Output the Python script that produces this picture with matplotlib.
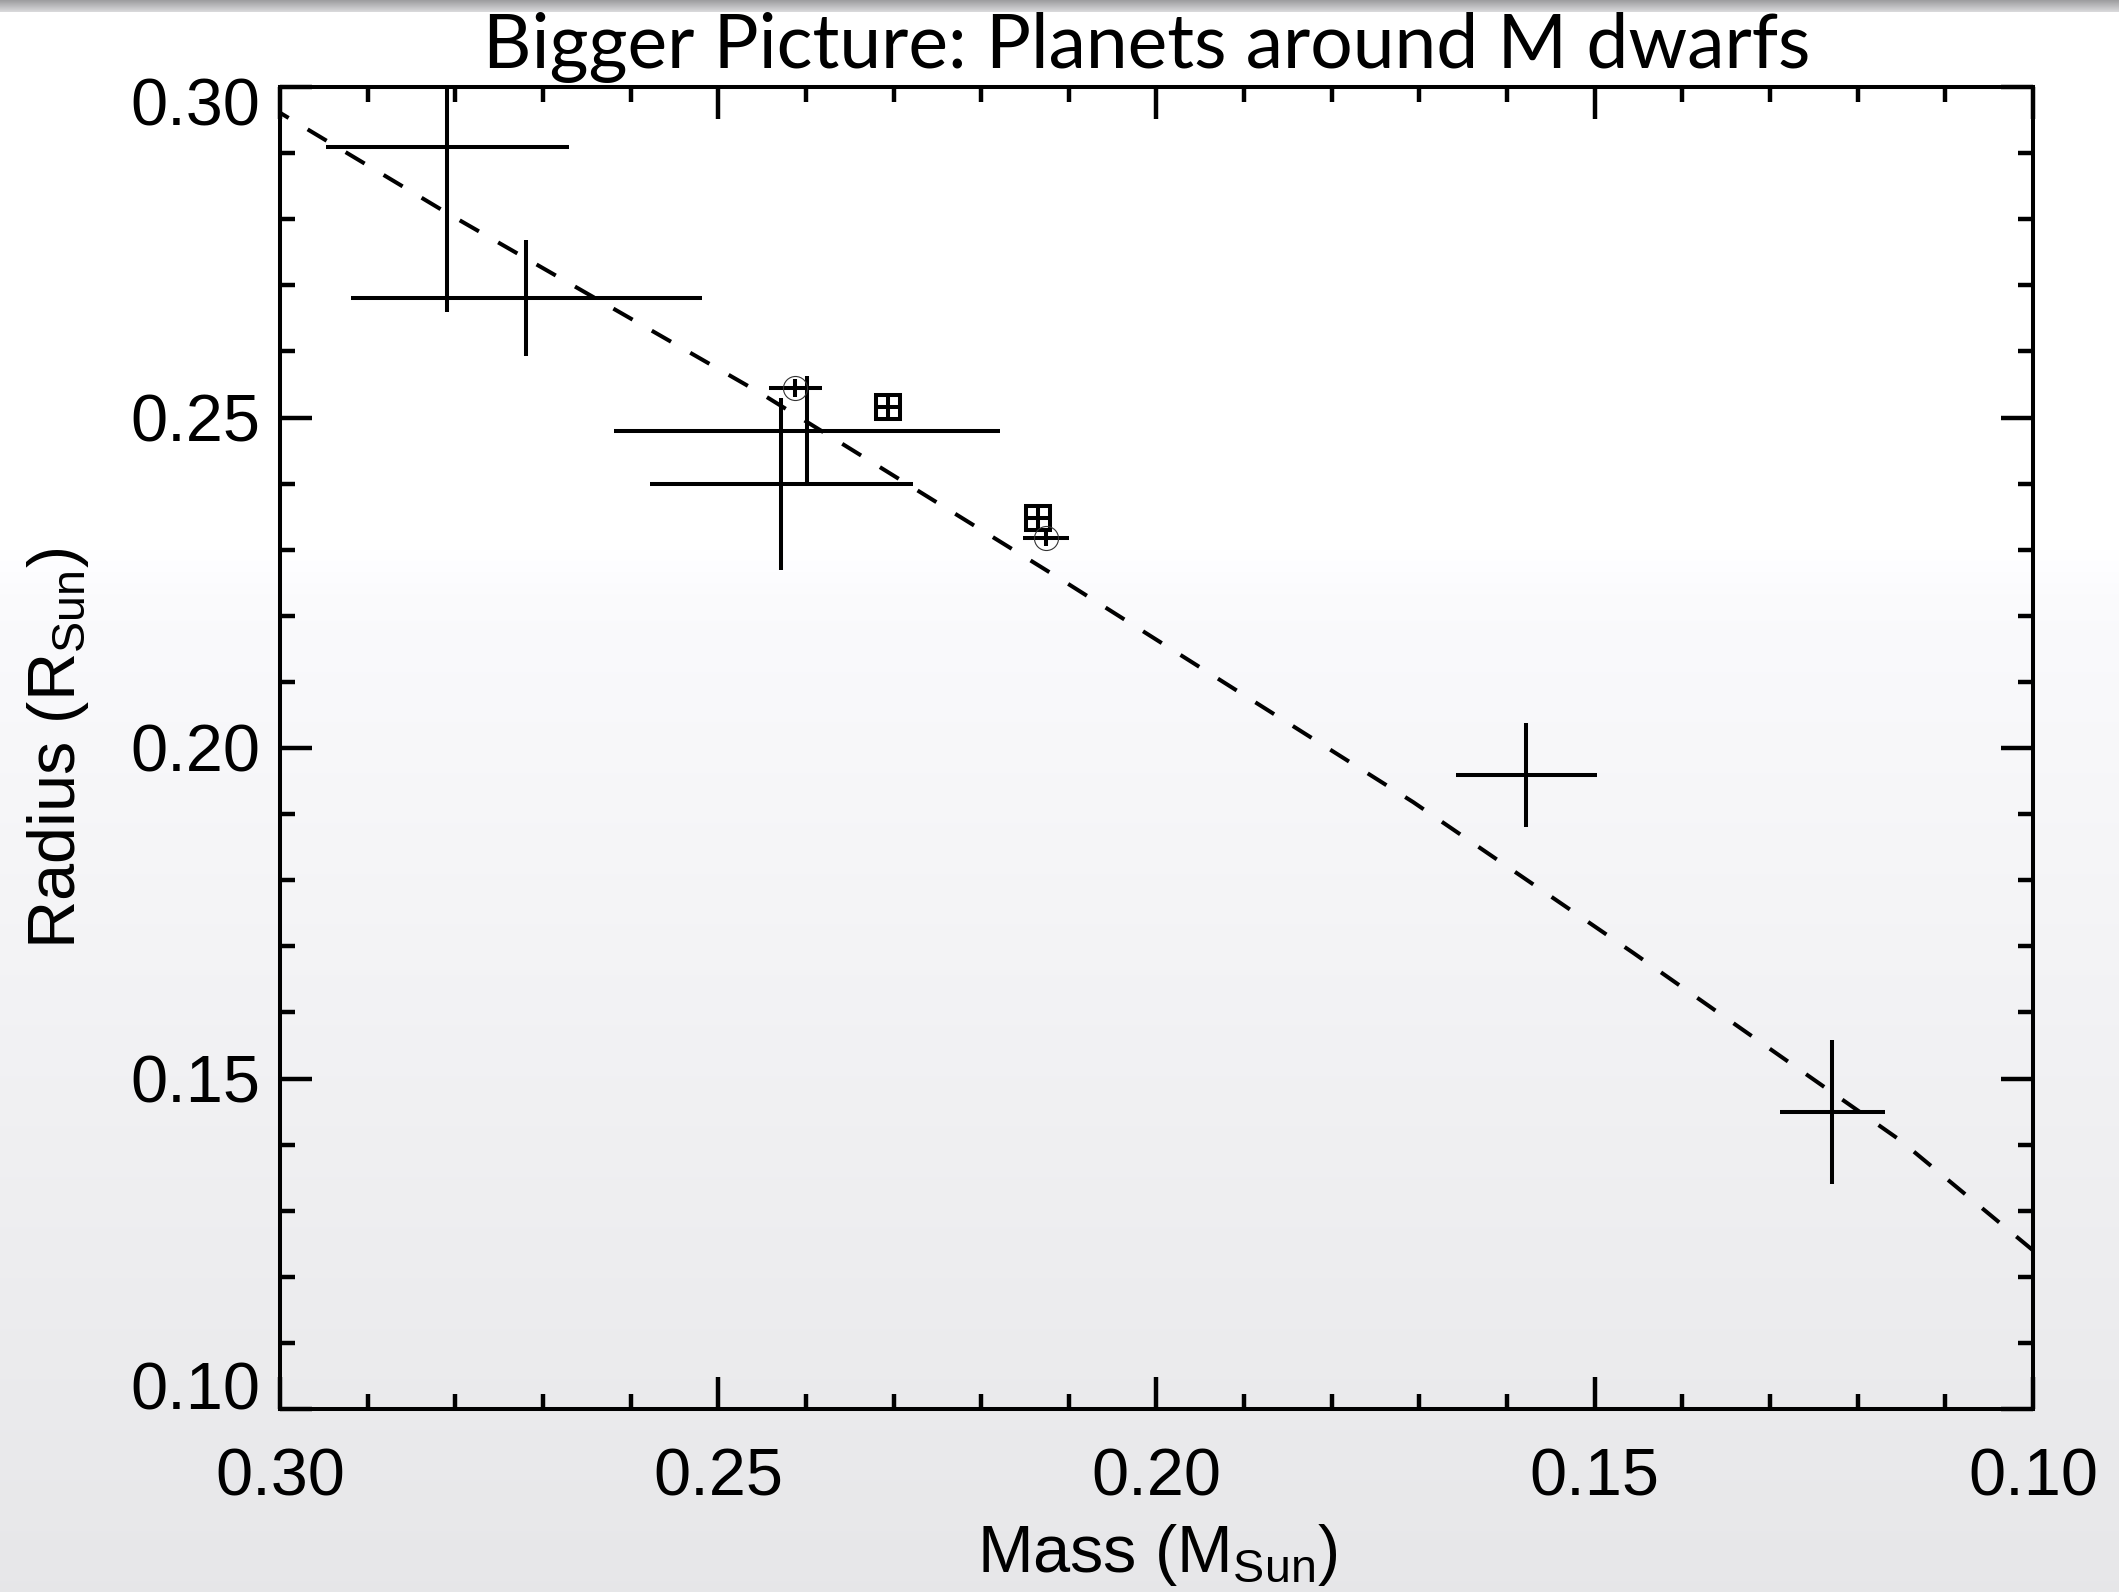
import numpy as np
import matplotlib
matplotlib.use("Agg")
import matplotlib.pyplot as plt
from matplotlib.ticker import MultipleLocator
from matplotlib.transforms import ScaledTranslation

plt.rcParams['font.family'] = ['Liberation Sans', 'DejaVu Sans']
plt.rcParams['mathtext.fontset'] = 'custom'
plt.rcParams['mathtext.rm'] = 'Liberation Sans'
plt.rcParams['mathtext.it'] = 'Liberation Sans:italic'

# ---------------- data ----------------
# plain error-bar crosses
cross_mass = [0.2809, 0.2719, 0.2399, 0.2428, 0.1578, 0.1229]
cross_radius = [0.2909, 0.2681, 0.2480, 0.2399, 0.1959, 0.1449]
cross_mass_err = [0.0139, 0.0200, 0.0220, 0.0150, 0.0080, 0.0060]
cross_radius_err = [0.0250, 0.0088, 0.0083, 0.0130, 0.0079, 0.0109]

# square-marked points
sq_mass = [0.2306, 0.2135]
sq_radius = [0.2516, 0.2348]
sq_mass_err = [0.0014, 0.0014]
sq_radius_err = [0.0018, 0.0018]

# circle-marked points
circ_mass = [0.2412, 0.2126]
circ_radius = [0.2545, 0.2318]
circ_mass_err = [0.0030, 0.0026]
circ_radius_err = [0.0014, 0.0012]

# dashed mass-radius relation
curve_mass = [0.300, 0.2809, 0.2452, 0.2110, 0.1707, 0.1456, 0.1152, 0.100]
curve_radius = [0.2961, 0.2809, 0.2537, 0.2256, 0.1918, 0.1690, 0.1407, 0.1240]

x_ticks = [0.30, 0.25, 0.20, 0.15, 0.10]
y_ticks = [0.10, 0.15, 0.20, 0.25, 0.30]

title = "Bigger Picture: Planets around M dwarfs"
xlabel = r"Mass (M$_{\mathrm{Sun}}$)"
ylabel = r"Radius (R$_{\mathrm{Sun}}$)"

# ---------------- figure ----------------
W, H, DPI = 2119, 1592, 100
fig = plt.figure(figsize=(W / DPI, H / DPI), dpi=DPI)

# background gradient (vertical)
rows = np.arange(H, dtype=float)
g = np.ones(H)
topm = rows < 12
g[topm] = 0.62 + 0.25 * rows[topm] / 12.0
blend = (rows >= 550) & (rows < 600)
g[blend] = 1.0 - (1.0 - 0.982) * (rows[blend] - 550) / 50.0
low = rows >= 600
g[low] = 0.982 - (0.982 - 0.905) * (rows[low] - 600) / (H - 600)
col = np.stack([g, g, np.clip(g + 0.008, 0, 1)], axis=-1)  # (H, 3)
bg = np.repeat(col[:, None, :], 4, axis=1)  # (H, 4, 3)
bg_ax = fig.add_axes([0, 0, 1, 1], zorder=-10)
bg_ax.imshow(bg, aspect='auto', extent=[0, 1, 0, 1], interpolation='bilinear')
bg_ax.axis('off')

left, right, top_px, bot_px = 280, 2033, 87, 1409
ax = fig.add_axes([left / W, 1 - bot_px / H, (right - left) / W, (bot_px - top_px) / H], zorder=1)
ax.patch.set_alpha(0)

lw = 2.9
ax.errorbar(cross_mass, cross_radius, xerr=cross_mass_err, yerr=cross_radius_err,
            fmt='none', ecolor='black', elinewidth=lw, capsize=0)
ax.errorbar(sq_mass, sq_radius, xerr=sq_mass_err, yerr=sq_radius_err,
            fmt='none', ecolor='black', elinewidth=lw, capsize=0)
ax.plot(sq_mass, sq_radius, linestyle='none', marker='s', markersize=17.3,
        markerfacecolor='none', markeredgecolor='black', markeredgewidth=lw)
ax.errorbar(circ_mass, circ_radius, xerr=circ_mass_err, yerr=circ_radius_err,
            fmt='none', ecolor='black', elinewidth=lw, capsize=0)
ax.plot(circ_mass, circ_radius, linestyle='none', marker='o', markersize=17.3,
        markerfacecolor='none', markeredgecolor='#333333', markeredgewidth=0.8)

ax.plot(curve_mass, curve_radius, color='black', lw=lw, linestyle=(3, (5.5, 5.5)))

ax.set_xlim(0.30, 0.10)
ax.set_ylim(0.10, 0.30)
ax.set_xticks(x_ticks)
ax.set_yticks(y_ticks)
ax.set_xticklabels([f"{v:.2f}" for v in x_ticks])
ax.set_yticklabels([f"{v:.2f}" for v in y_ticks])
ax.xaxis.set_minor_locator(MultipleLocator(0.01))
ax.yaxis.set_minor_locator(MultipleLocator(0.01))
ax.tick_params(which='both', direction='in', top=True, right=True, colors='black', width=3.2)
ax.tick_params(which='major', length=23)
ax.tick_params(which='minor', length=11)
ax.tick_params(axis='x', which='major', labelsize=48, pad=28)
ax.tick_params(axis='y', which='major', labelsize=48, pad=14)
for s in ax.spines.values():
    s.set_linewidth(2.9)

ylabs = ax.get_yticklabels()
ylabs[0].set_verticalalignment('baseline')
ylabs[-1].set_transform(ylabs[-1].get_transform() + ScaledTranslation(0, -0.14, fig.dpi_scale_trans))

fig.text(58 / W, 1 - 748 / H, ylabel, rotation=90, fontsize=48, ha='center', va='center')
fig.text(1157 / W, 1 - 1572 / H, xlabel, fontsize=48, ha='center', va='baseline')
fig.text(1147 / W, 1 - 68 / H, title, fontsize=54, ha='center', va='baseline',
         family=['Lato', 'DejaVu Sans'])

fig.savefig('out.png', dpi=DPI)
